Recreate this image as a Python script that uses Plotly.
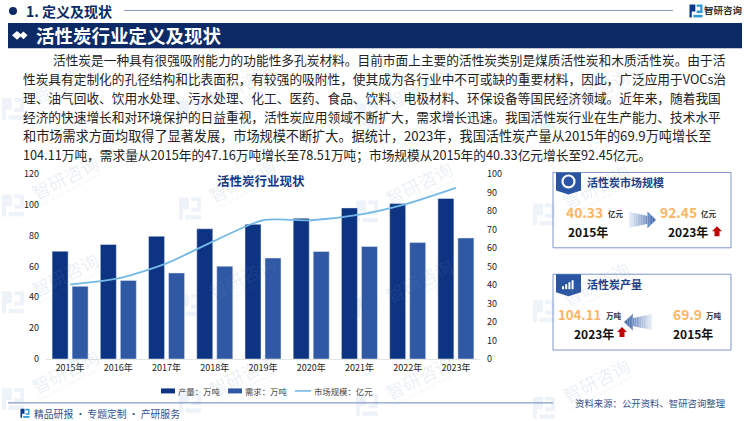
import plotly.graph_objects as go

# full width Chinese punctuation for every label
CN_PUNCT = str.maketrans({",": "\uff0c", ";": "\uff1b", ":": "\uff1a"})

# ------------------------------------------------------------------
# data
# ------------------------------------------------------------------
years = ["2015年", "2016年", "2017年", "2018年", "2019年", "2020年", "2021年", "2022年", "2023年"]
output_vals = [69.9, 74.3, 79.6, 84.5, 87.4, 91.3, 98.0, 100.8, 104.11]
demand_vals = [47.16, 51.0, 55.8, 60.2, 65.5, 69.7, 73.0, 75.5, 78.51]
market_vals = [40.33, 43.6, 51.7, 64.0, 75.0, 75.0, 78.0, 84.0, 92.45]
left_ticks = [0, 20, 40, 60, 80, 100, 120]
right_ticks = [0, 10, 20, 30, 40, 50, 60, 70, 80, 90, 100]
series_names = [s.translate(CN_PUNCT) for s in ["产量:万吨", "需求:万吨", "市场规模:亿元"]]

body_lines = [
    "活性炭是一种具有很强吸附能力的功能性多孔炭材料。目前市面上主要的活性炭类别是煤质活性炭和木质活性炭。由于活",
    "性炭具有定制化的孔径结构和比表面积,有较强的吸附性,使其成为各行业中不可或缺的重要材料,因此,广泛应用于VOCs治",
    "理、油气回收、饮用水处理、污水处理、化工、医药、食品、饮料、电极材料、环保设备等国民经济领域。近年来,随着我国",
    "经济的快速增长和对环境保护的日益重视,活性炭应用领域不断扩大,需求增长迅速。我国活性炭行业在生产能力、技术水平",
    "和市场需求方面均取得了显著发展,市场规模不断扩大。据统计,2023年,我国活性炭产量从2015年的69.9万吨增长至",
    "104.11万吨,需求量从2015年的47.16万吨增长至78.51万吨;市场规模从2015年的40.33亿元增长至92.45亿元。",
]

W, H = 750, 421
L, R, T, B = 46, 480, 173.5, 359
FONT = "Noto Sans CJK SC"
NAVY = "#0b2a66"
BAR1, BAR2, LINE_C = "#0c3482", "#2f58a5", "#74b9e6"


def xp(x):
    return (x - L) / (R - L)


def yp(y):
    return 1 - (y - T) / (B - T)


shapes = []
annos = []


def text(x, y, s, size, color, anchor="left", bold=False, angle=0):
    s = s.translate(CN_PUNCT)
    annos.append(dict(
        x=xp(x), y=yp(y), xref="paper", yref="paper", showarrow=False,
        text=f"<b>{s}</b>" if bold else s, xanchor=anchor, yanchor="middle",
        textangle=angle, borderpad=0, font=dict(family=FONT, size=size, color=color),
    ))


def poly(points, fill, layer="above"):
    path = "M" + " L".join(f"{xp(a):.5f},{yp(b):.5f}" for a, b in points) + " Z"
    shapes.append(dict(type="path", path=path, xref="paper", yref="paper",
                       fillcolor=fill, line=dict(width=0), layer=layer))


def rect(x0, y0, x1, y1, fill="rgba(0,0,0,0)", line=None, width=0, layer="above"):
    shapes.append(dict(type="rect", xref="paper", yref="paper", x0=xp(x0), x1=xp(x1),
                       y0=yp(y0), y1=yp(y1), fillcolor=fill, layer=layer,
                       line=dict(width=width, color=line or "rgba(0,0,0,0)")))


def hline(x0, x1, y, color, width=1):
    shapes.append(dict(type="line", xref="paper", yref="paper", x0=xp(x0), x1=xp(x1),
                       y0=yp(y), y1=yp(y), line=dict(color=color, width=width)))


def logo(cx, cy, s, c1, c2, layer="above"):
    # the two bracket strokes of the company mark
    poly([(cx - s, cy - s), (cx - .1 * s, cy - s), (cx - .1 * s, cy + .1 * s), (cx - .65 * s, cy + .1 * s),
          (cx - .65 * s, cy + s), (cx - s, cy + s)], c1, layer)
    poly([(cx + .1 * s, cy - s), (cx + s, cy - s), (cx + s, cy + .3 * s), (cx + .1 * s, cy + .3 * s),
          (cx + .1 * s, cy - .05 * s), (cx + .65 * s, cy - .05 * s), (cx + .65 * s, cy - .65 * s), (cx + .1 * s, cy - .65 * s)], c2, layer)
    poly([(cx - .4 * s, cy + .6 * s), (cx + s, cy + .6 * s), (cx + s, cy + s), (cx - .4 * s, cy + s)], c2, layer)


def big_arrow(x_tail, x_tip, y, n=16):
    # gradient arrow, built from thin slices pale -> blue
    def half(t):
        if t < 0.68:
            return 8 - 4 * t / 0.68
        return 8.5 * (1 - t) / 0.32
    for i in range(n):
        t0, t1 = i / n, (i + 1) / n
        mix = t1 ** 1.1
        col = "rgb(%d,%d,%d)" % (238 - 180 * mix, 243 - 145 * mix, 250 - 80 * mix)
        a0 = x_tail + (x_tip - x_tail) * t0
        a1 = x_tail + (x_tip - x_tail) * t1
        if t0 < 0.68 <= t1:
            a1 = x_tail + (x_tip - x_tail) * 0.68
            poly([(a0, y - half(t0)), (a1, y - half(.6799)), (a1, y + half(.6799)), (a0, y + half(t0))], col)
            poly([(a1, y - 8.5), (x_tail + (x_tip - x_tail) * t1, y - half(t1)),
                  (x_tail + (x_tip - x_tail) * t1, y + half(t1)), (a1, y + 8.5)], col)
        else:
            poly([(a0, y - half(t0)), (a1, y - half(t1)), (a1, y + half(t1)), (a0, y + half(t0))], col)


def red_up(cx, y_top, y_bot):
    poly([(cx, y_top), (cx + 5, y_top + 5), (cx + 2.5, y_top + 5), (cx + 2.5, y_bot),
          (cx - 2.5, y_bot), (cx - 2.5, y_top + 5), (cx - 5, y_top + 5)], "#c00000")


def badge(x0, y0):
    poly([(x0, y0), (x0 + 25, y0), (x0 + 25, y0 + 18), (x0 + 12.5, y0 + 22), (x0, y0 + 18)], "#2b55a3")


# ------------------------------------------------------------------
# watermark
# ------------------------------------------------------------------
for col in range(4):
    for row in range(-1, 3):
        wx = 65 + 177 * col
        wy = 177 + 97 * row + 3 * col
        text(wx, wy, "智研咨询", 18, "rgba(110,145,180,0.15)", "center", angle=-27)
        text(wx + 4, wy + 13, "INTELLIGENCE RESEARCH GROUP", 4.5, "rgba(110,145,180,0.15)", "center", angle=-27)
        logo(wx - 52, wy + 28, 11, "rgba(120,165,205,0.13)", "rgba(120,165,205,0.13)", layer="below")

# ------------------------------------------------------------------
# header
# ------------------------------------------------------------------
shapes.append(dict(type="circle", xref="paper", yref="paper", x0=xp(9), x1=xp(17), y0=yp(6), y1=yp(14),
                   fillcolor=NAVY, line=dict(width=0)))
text(25, 10, "1. 定义及现状", 14, NAVY, bold=True)
hline(124, 673, 9.5, "#8496c4", 1)
logo(696, 10, 6.5, "#0b3a8c", "#2e9bd6")
text(703, 9.5, "智研咨询", 9.5, "#333333", bold=True)
rect(8, 22, 742, 47.5, fill=NAVY)
poly([(12, 34.5), (17, 30), (22, 34.5), (17, 39)], "white")
poly([(19.5, 34.5), (23.5, 30.5), (27.5, 34.5), (23.5, 38.5)], "white")
text(35, 34.5, "活性炭行业定义及现状", 18.5, "white", bold=True)

for i, line in enumerate(body_lines):
    # the fifth line is set a little looser in the original
    text(52 if i == 0 else 22, 59 + 19 * i, line, 13.15 if i == 4 else 12.7, "#222222")

# ------------------------------------------------------------------
# chart decoration, hand placed legend and side panels
# ------------------------------------------------------------------
text(261, 180, "活性炭行业现状", 12.5, "#123a87", "center", bold=True)

rect(161, 388.5, 175, 393.5, fill=BAR1)
text(177, 391, series_names[0], 8.4, "#444444")
rect(228, 388.5, 242, 393.5, fill=BAR2)
text(244, 391, series_names[1], 8.4, "#444444")
hline(295, 311, 391, LINE_C, 1.6)
text(313, 391, series_names[2], 8.4, "#444444")

hline(8, 553, 403, "#6a80bb", 1)
logo(25, 413.5, 4.5, "#0b3a8c", "#2e9bd6")
text(33, 414, "精品研报 · 专题定制 · 产研服务", 9.8, "#35508c")
text(574, 403, "资料来源:公开资料、智研咨询整理", 9.4, "#35508c")

rect(553, 172, 731, 247.5, line="#7f97cb", width=1)
badge(556, 172)
shapes.append(dict(type="circle", xref="paper", yref="paper", x0=xp(562.5), x1=xp(574.5), y0=yp(175), y1=yp(187),
                   fillcolor="#2b55a3", line=dict(width=2.2, color="white")))
text(586, 182, "活性炭市场规模", 11, "#1f3f85", bold=True)
text(565, 212, "40.33", 13.8, "#fdb562", bold=True)
text(607, 213.5, "亿元", 7.5, "#333333", bold=True)
text(567, 231, "2015年", 12, "#111111", bold=True)
big_arrow(629, 656, 219.5)
text(659, 212, "92.45", 13.8, "#fdb562", bold=True)
text(700, 213.5, "亿元", 7.5, "#333333", bold=True)
text(667, 231, "2023年", 12, "#111111", bold=True)
red_up(717, 226, 236)

rect(553, 274, 731, 350, line="#7f97cb", width=1)
badge(556, 274)
for k, bar_h in enumerate([3, 5, 7, 9]):
    rect(562 + 3.2 * k, 289 - bar_h, 564 + 3.2 * k, 289, fill="white")
text(586, 284, "活性炭产量", 11, "#1f3f85", bold=True)
text(557, 314, "104.11", 13.2, "#fdb562", bold=True)
text(605, 315.5, "万吨", 7.5, "#333333", bold=True)
text(573, 333, "2023年", 12, "#111111", bold=True)
red_up(622, 327, 337)
big_arrow(652, 624, 322)
text(672, 314, "69.9", 13.8, "#fdb562", bold=True)
text(705, 315.5, "万吨", 7.5, "#333333", bold=True)
text(672, 333, "2015年", 12, "#111111", bold=True)

# ------------------------------------------------------------------
# traces
# ------------------------------------------------------------------
fig = go.Figure()
fig.add_trace(go.Bar(x=years, y=output_vals, name=series_names[0], marker=dict(color=BAR1), yaxis="y"))
fig.add_trace(go.Bar(x=years, y=demand_vals, name=series_names[1], marker=dict(color=BAR2), yaxis="y"))
fig.add_trace(go.Scatter(x=years, y=market_vals, name=series_names[2], mode="lines", yaxis="y2",
                         line=dict(color=LINE_C, width=1.8, shape="spline", smoothing=0.7)))

tick_font = dict(family=FONT, size=9, color="#222222")
fig.update_layout(
    width=W, height=H,
    margin=dict(l=L, r=W - R, t=T, b=H - B, pad=0),
    paper_bgcolor="white", plot_bgcolor="rgba(0,0,0,0)",
    barmode="group", bargap=0.17, bargroupgap=0.2,
    font=dict(family=FONT),
    showlegend=False,
    shapes=shapes, annotations=annos,
    xaxis=dict(tickfont=tick_font, showgrid=False, zeroline=False, showline=True, linecolor="#e3e3e3",
               linewidth=1, ticks=""),
    yaxis=dict(range=[0, 120], tickvals=left_ticks, tickfont=tick_font, showgrid=False, zeroline=False,
               ticks="", ticklabelstandoff=6),
    yaxis2=dict(range=[0, 100], tickvals=right_ticks, tickfont=tick_font, showgrid=False, zeroline=False,
                overlaying="y", side="right", ticks="", ticklabelstandoff=6),
)

fig.write_html("out.html", config=dict(displayModeBar=False),
               post_script="document.body.style.margin='0';")
